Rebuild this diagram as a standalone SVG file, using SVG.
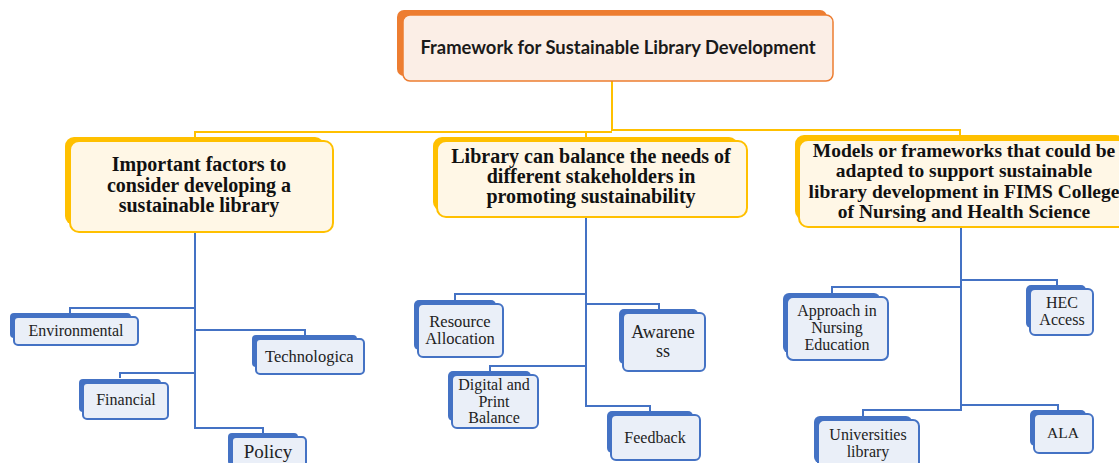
<svg xmlns="http://www.w3.org/2000/svg" width="1119" height="463" viewBox="0 0 1119 463">
<style>
.bg{fill:#ffffff}
.ylw{fill:none;stroke:#FFC000;stroke-width:2}
.blu{fill:none;stroke:#4472C4;stroke-width:2}
.topb{fill:#ED7D31}
.topf{fill:#FBEEE6;stroke:#ED7D31;stroke-width:1.5}
.l1b{fill:#FFC000}
.l1f{fill:#FFF7E6;stroke:#FFC000;stroke-width:2}
.lfb{fill:#4472C4}
.lff{fill:#EAEFF8;stroke:#4472C4;stroke-width:2}
.tt{font-family:Lato,"Liberation Sans",sans-serif;font-weight:bold;font-size:18.4px;fill:#1a1a1a;text-anchor:middle}
.t1{font-family:"Liberation Serif","Times New Roman",serif;font-weight:bold;font-size:20px;fill:#111;text-anchor:middle}
.t2{font-family:"Liberation Serif","Times New Roman",serif;font-size:16px;fill:#222;text-anchor:middle}
</style>
<defs>
<clipPath id="clipTech"><rect x="256" y="339" width="97" height="35"/></clipPath>
</defs>
<rect class="bg" x="0" y="0" width="1119" height="463"/>
<g id="connectors">
<path class="ylw" d="M612,81 V130 H960 V136"/>
<path class="ylw" d="M195,137 V132 H612"/>
<path class="ylw" d="M586,132 V137"/>
<path class="blu" d="M195,232 V428 H263 V433"/>
<path class="blu" d="M195,308 H70 V313"/>
<path class="blu" d="M195,330 H305 V335"/>
<path class="blu" d="M195,373 H120 V378"/>
<path class="blu" d="M586,217 V406 H650 V411"/>
<path class="blu" d="M586,294 H455 V300"/>
<path class="blu" d="M586,304 H659 V309"/>
<path class="blu" d="M586,366 H490 V371"/>
<path class="blu" d="M961,227 V410 H863 V416"/>
<path class="blu" d="M961,287 H832 V293"/>
<path class="blu" d="M961,280 H1057 V285"/>
<path class="blu" d="M961,405 H1058 V410"/>
</g>
<g id="root">
<rect class="topb" x="397" y="10" width="430" height="66" rx="7"/>
<rect class="topf" x="403" y="15" width="430" height="66" rx="7"/>
<text class="tt" x="618" y="54">Framework for Sustainable Library Development</text>
</g>
<g id="factors">
<rect class="l1b" x="65" y="137" width="259" height="88" rx="9"/>
<rect class="l1f" x="70" y="141" width="263" height="91" rx="9"/>
<text class="t1" x="199" y="171">Important factors to</text>
<text class="t1" x="199" y="192">consider  developing a</text>
<text class="t1" x="199" y="212">sustainable library</text>
</g>
<g id="stakeholders">
<rect class="l1b" x="433" y="137" width="305" height="74" rx="9"/>
<rect class="l1f" x="437" y="141" width="310" height="76" rx="9"/>
<text class="t1" x="591" y="163">Library can balance the needs of</text>
<text class="t1" x="591" y="183">different stakeholders in</text>
<text class="t1" x="591" y="203">promoting sustainability</text>
</g>
<g id="models">
<rect class="l1b" x="795" y="135" width="330" height="85" rx="9"/>
<rect class="l1f" x="799" y="140" width="335" height="87" rx="9"/>
<text class="t1" x="964" y="157" style="font-size:19.5px">Models or frameworks that could be</text>
<text class="t1" x="964" y="177" style="font-size:19.5px">adapted to support sustainable</text>
<text class="t1" x="964" y="198" style="font-size:19.5px">library development in FIMS College</text>
<text class="t1" x="964" y="218" style="font-size:19.5px">of Nursing and Health Science</text>
</g>
<g id="environmental">
<rect class="lfb" x="10" y="313" width="121" height="25" rx="4"/>
<rect class="lff" x="14" y="317" width="124" height="28" rx="4"/>
<text class="t2" x="76" y="336">Environmental</text>
</g>
<g id="technological">
<rect class="lfb" x="252" y="335" width="105" height="32" rx="4"/>
<rect class="lff" x="256" y="339" width="108" height="35" rx="4"/>
<text class="t2" x="265" y="362" clip-path="url(#clipTech)" style="text-anchor:start;font-size:16.5px">Technological</text>
</g>
<g id="financial">
<rect class="lfb" x="79" y="379" width="82" height="33" rx="4"/>
<rect class="lff" x="83" y="383" width="85" height="36" rx="4"/>
<text class="t2" x="126" y="405">Financial</text>
</g>
<g id="policy">
<rect class="lfb" x="228" y="433" width="70" height="32" rx="4"/>
<rect class="lff" x="232" y="437" width="74" height="35" rx="4"/>
<text class="t2" x="268" y="458" style="font-size:19px">Policy</text>
</g>
<g id="resource">
<rect class="lfb" x="414" y="300" width="82" height="50" rx="5"/>
<rect class="lff" x="418" y="304" width="85" height="53" rx="5"/>
<text class="t2" x="460" y="327" style="font-size:16.5px">Resource</text>
<text class="t2" x="460" y="344" style="font-size:16.5px">Allocation</text>
</g>
<g id="awareness">
<rect class="lfb" x="619" y="309" width="79" height="55" rx="5"/>
<rect class="lff" x="623" y="313" width="82" height="58" rx="5"/>
<text class="t2" x="663" y="338" style="font-size:18px">Awarene</text>
<text class="t2" x="663" y="357" style="font-size:18px">ss</text>
</g>
<g id="digital">
<rect class="lfb" x="448" y="371" width="83" height="50" rx="5"/>
<rect class="lff" x="452" y="375" width="86" height="53" rx="5"/>
<text class="t2" x="494" y="390">Digital and</text>
<text class="t2" x="494" y="407">Print</text>
<text class="t2" x="494" y="423">Balance</text>
</g>
<g id="feedback">
<rect class="lfb" x="607" y="411" width="86" height="42" rx="5"/>
<rect class="lff" x="611" y="415" width="89" height="45" rx="5"/>
<text class="t2" x="655" y="443">Feedback</text>
</g>
<g id="approach">
<rect class="lfb" x="783" y="293" width="97" height="60" rx="6"/>
<rect class="lff" x="787" y="297" width="101" height="63" rx="6"/>
<text class="t2" x="837" y="316">Approach in</text>
<text class="t2" x="837" y="333">Nursing</text>
<text class="t2" x="837" y="350">Education</text>
</g>
<g id="hec">
<rect class="lfb" x="1026" y="285" width="60" height="43" rx="5"/>
<rect class="lff" x="1030" y="289" width="63" height="46" rx="5"/>
<text class="t2" x="1062" y="308">HEC</text>
<text class="t2" x="1062" y="325">Access</text>
</g>
<g id="universities">
<rect class="lfb" x="814" y="416" width="98" height="47" rx="6"/>
<rect class="lff" x="818" y="420" width="101" height="50" rx="6"/>
<text class="t2" x="868" y="440">Universities</text>
<text class="t2" x="868" y="457">library</text>
</g>
<g id="ala">
<rect class="lfb" x="1030" y="410" width="56" height="36" rx="5"/>
<rect class="lff" x="1034" y="414" width="59" height="39" rx="5"/>
<text class="t2" x="1063" y="438" style="font-size:15.5px">ALA</text>
</g>
</svg>
